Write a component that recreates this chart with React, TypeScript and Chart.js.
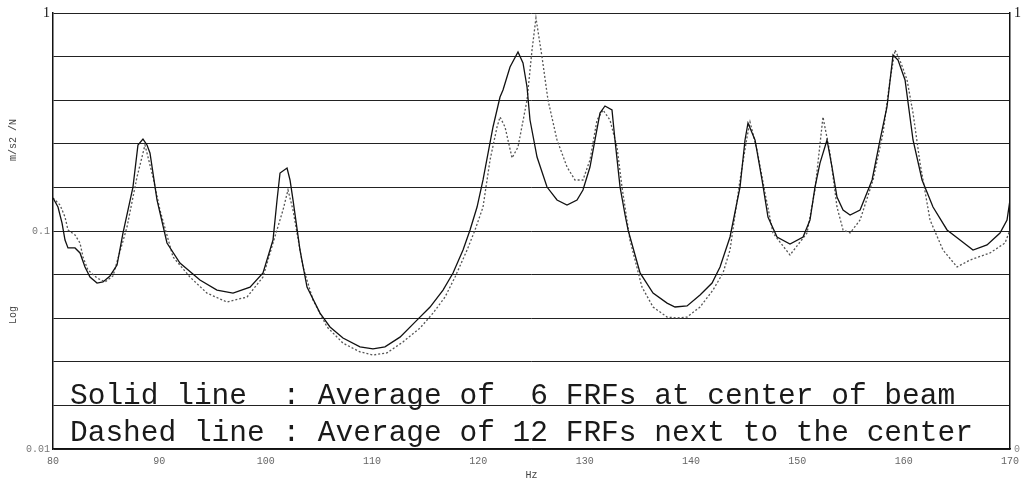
import React, { useEffect, useRef } from "react";
import { Chart, registerables } from "chart.js";

Chart.register(...registerables);

// Solid line: average of 6 FRFs at center of beam
const solidHz = [
  80.0, 80.47, 80.85, 81.13, 81.41, 82.07, 82.54, 83.01, 83.48, 84.14, 84.7, 85.36, 86.02, 86.58,
  87.52, 87.99, 88.46, 88.84, 89.12, 89.78, 90.72, 91.94, 93.82, 95.42, 96.93, 98.53, 99.75,
  100.69, 101.07, 101.35, 102.01, 102.29, 102.57, 103.23, 103.89, 105.11, 106.05, 107.27, 108.87,
  110.09, 111.22, 112.63, 114.23, 115.46, 116.68, 117.62, 118.56, 119.22, 119.88, 120.44, 121.38,
  122.04, 122.32, 122.98, 123.73, 124.2, 124.58, 124.86, 125.52, 126.46, 127.4, 128.34, 129.28,
  129.84, 130.5, 130.97, 131.44, 131.91, 132.57, 132.85, 133.33, 133.8, 134.08, 135.21, 136.43,
  137.75, 138.5, 139.63, 140.85, 141.98, 142.73, 143.67, 144.61, 145.08, 145.36, 146.02, 146.68,
  147.24, 148.09, 149.31, 150.54, 151.19, 151.66, 152.13, 152.79, 153.26, 153.73, 154.3, 154.96,
  155.9, 157.03, 157.78, 158.43, 159.0, 159.47, 160.13, 160.88, 161.73, 162.76, 164.08, 165.3,
  166.52, 167.84, 169.06, 169.72, 170.0,
];
const solidVal = [
  0.1417, 0.1288, 0.1088, 0.0909, 0.0836, 0.0836, 0.0793, 0.0684, 0.0615, 0.0577, 0.0584, 0.0622,
  0.0698, 0.0979, 0.1591, 0.248, 0.2642, 0.248, 0.2279, 0.1388, 0.0881, 0.0713, 0.0596, 0.0536,
  0.0519, 0.0553, 0.0642, 0.0909, 0.1388, 0.1845, 0.1945, 0.1714, 0.1388, 0.0818, 0.0553, 0.042,
  0.0363, 0.0323, 0.0294, 0.0288, 0.0294, 0.0326, 0.039, 0.0448, 0.0536, 0.0642, 0.0818, 0.1011,
  0.1288, 0.1714, 0.3, 0.4118, 0.4434, 0.5652, 0.6625, 0.5897, 0.4576, 0.3229, 0.2185, 0.1591,
  0.1388, 0.1316, 0.1388, 0.1542, 0.1966, 0.2615, 0.3477, 0.3745, 0.3589, 0.2615, 0.1591, 0.1184,
  0.1011, 0.0642, 0.0519, 0.0467, 0.0448, 0.0453, 0.0509, 0.0577, 0.0684, 0.0939, 0.1591, 0.2615,
  0.3129, 0.2615, 0.1714, 0.1159, 0.0939, 0.0872, 0.0939, 0.1123, 0.1591, 0.205, 0.2615, 0.1966,
  0.1432, 0.1248, 0.1184, 0.1248, 0.1714, 0.2615, 0.3706, 0.6419, 0.6086, 0.4928, 0.2615, 0.1714,
  0.1288, 0.1011, 0.0909, 0.0818, 0.0863, 0.0979, 0.1123, 0.1388,
];

// Dashed line: average of 12 FRFs next to the center
const dashedHz = [
  80.0, 80.19, 80.66, 81.13, 81.41, 82.07, 82.54, 82.82, 83.29, 84.14, 84.89, 85.64, 86.96, 87.9,
  88.65, 89.4, 90.06, 91.29, 92.88, 94.48, 96.36, 98.25, 99.75, 100.69, 101.63, 102.1, 102.57,
  103.51, 104.45, 105.77, 107.27, 108.87, 110.09, 111.41, 112.92, 114.52, 115.74, 116.87, 117.81,
  118.94, 119.69, 120.44, 121.1, 121.76, 122.04, 122.51, 123.17, 123.73, 124.58, 125.05, 125.42,
  125.99, 126.55, 127.4, 128.34, 129.09, 129.84, 130.5, 131.16, 131.73, 132.38, 133.04, 133.51,
  134.26, 135.39, 136.43, 137.75, 138.69, 139.63, 140.85, 142.07, 143.01, 143.67, 144.61, 145.27,
  145.55, 146.21, 146.96, 147.71, 149.31, 150.91, 151.66, 152.41, 153.07, 153.73, 154.3, 154.96,
  155.9, 157.12, 158.06, 158.72, 159.19, 159.75, 160.32, 160.88, 161.54, 162.48, 163.7, 165.02,
  166.24, 168.12, 169.53, 170.0,
];
const dashedVal = [
  0.1417, 0.1388, 0.1316, 0.1159, 0.1011, 0.0959, 0.0881, 0.076, 0.0662, 0.0609, 0.0584, 0.0622,
  0.1043, 0.1769, 0.248, 0.1769, 0.1248, 0.076, 0.0615, 0.0519, 0.0472, 0.0498, 0.0615, 0.0881,
  0.1248, 0.1542, 0.1248, 0.0684, 0.0483, 0.0363, 0.0306, 0.0279, 0.027, 0.0276, 0.031, 0.0359,
  0.042, 0.0498, 0.0615, 0.0818, 0.1011, 0.1288, 0.2117, 0.3, 0.3334, 0.3, 0.2163, 0.2428, 0.399,
  0.6766, 0.9486, 0.6283, 0.399, 0.2615, 0.1966, 0.1714, 0.1714, 0.2117, 0.3229, 0.3589, 0.3229,
  0.2428, 0.1591, 0.0909, 0.0553, 0.0448, 0.0403, 0.0399, 0.0403, 0.0448, 0.0536, 0.0642, 0.0818,
  0.1714, 0.2699, 0.3162, 0.2352, 0.1494, 0.0979, 0.0776, 0.0979, 0.1542, 0.3334, 0.2279, 0.1288,
  0.1011, 0.0979, 0.1123, 0.1714, 0.2815, 0.4928, 0.6766, 0.5897, 0.4928, 0.3477, 0.205, 0.1123,
  0.0818, 0.0684, 0.0736, 0.0793, 0.0881, 0.1011,
];

// Axis ticks
const xTicks = [80, 90, 100, 110, 120, 130, 140, 150, 160, 170];
const yTicks = [0.01, 0.015849, 0.025119, 0.039811, 0.063096, 0.1, 0.158489, 0.251189, 0.398107, 0.630957, 1];
const yTickLabels = ["0.01", "", "", "", "", "0.1", "", "", "", "", "1"];
const y2Ticks = [0.01, 1];
const y2TickLabels = ["0", "1"];

const legendLines = [
  "Solid line  : Average of  6 FRFs at center of beam",
  "Dashed line : Average of 12 FRFs next to the center",
];
const yTitleTop = "m/s2 /N";
const yTitleBottom = "Log";
const xTitle = "Hz";

const overlayPlugin = {
  id: "overlayText",
  afterDraw(chart: any) {
    const { ctx, chartArea } = chart;
    ctx.save();
    ctx.fillStyle = "#1a1a1a";
    ctx.font = '29.5px "Liberation Mono", monospace';
    ctx.textAlign = "left";
    ctx.textBaseline = "alphabetic";
    ctx.fillText(legendLines[0], chartArea.left + 17, 404);
    ctx.fillText(legendLines[1], chartArea.left + 17, 441);

    ctx.font = '10px "Liberation Mono", monospace';
    ctx.fillStyle = "#444";
    ctx.textAlign = "center";
    ctx.textBaseline = "middle";
    ctx.save();
    ctx.translate(13, 140);
    ctx.rotate(-Math.PI / 2);
    ctx.fillText(yTitleTop, 0, 0);
    ctx.restore();
    ctx.save();
    ctx.translate(13, 315);
    ctx.rotate(-Math.PI / 2);
    ctx.fillText(yTitleBottom, 0, 0);
    ctx.restore();
    ctx.restore();
  },
};

export default function App() {
  const canvasRef = useRef<HTMLCanvasElement | null>(null);

  useEffect(() => {
    document.body.style.margin = "0";
    const canvas = canvasRef.current;
    if (!canvas) return;

    const solidData = solidHz.map((x, i) => ({ x, y: solidVal[i] }));
    const dashedData = dashedHz.map((x, i) => ({ x, y: dashedVal[i] }));

    const chart = new Chart(canvas, {
      type: "line",
      data: {
        datasets: [
          {
            label: "Solid line",
            data: solidData,
            borderColor: "#111",
            borderWidth: 1.3,
            pointRadius: 0,
            tension: 0,
            fill: false,
          },
          {
            label: "Dashed line",
            data: dashedData,
            borderColor: "#555",
            borderWidth: 1.3,
            borderDash: [2, 2],
            pointRadius: 0,
            tension: 0,
            fill: false,
          },
        ],
      },
      options: {
        responsive: false,
        animation: false,
        layout: { padding: { top: 13, left: 0, right: 0, bottom: 0 } },
        plugins: {
          legend: { display: false },
          tooltip: { enabled: false },
          title: { display: false },
        },
        scales: {
          x: {
            type: "linear",
            min: 80,
            max: 170,
            afterBuildTicks: (scale: any) => {
              scale.ticks = xTicks.map((v) => ({ value: v }));
            },
            afterFit: (scale: any) => {
              scale.height = 38;
            },
            grid: { display: false, drawTicks: false },
            border: { display: true, color: "#111", width: 1.2 },
            ticks: {
              autoSkip: false,
              maxRotation: 0,
              padding: 6,
              color: "#666",
              font: { family: '"Liberation Mono", monospace', size: 10 },
              callback: (v: any) => String(v),
            },
            title: {
              display: true,
              text: xTitle,
              color: "#444",
              font: { family: '"Liberation Mono", monospace', size: 10 },
              padding: { top: 0, bottom: 6 },
            },
          },
          y: {
            type: "logarithmic",
            position: "left",
            min: 0.01,
            max: 1,
            afterBuildTicks: (scale: any) => {
              scale.ticks = yTicks.map((v) => ({ value: v }));
            },
            afterFit: (scale: any) => {
              scale.width = 53;
            },
            grid: { display: true, color: "#222", lineWidth: 1, drawTicks: false },
            border: { display: true, color: "#111", width: 1.5 },
            ticks: {
              autoSkip: false,
              padding: 3,
              color: (ctx: any) => (ctx.index === 10 ? "#111" : "#777"),
              font: (ctx: any) =>
                ctx.index === 10
                  ? { family: '"Liberation Serif", serif', size: 14 }
                  : { family: '"Liberation Mono", monospace', size: 10 },
              callback: (_v: any, i: number) => yTickLabels[i],
            },
          },
          y2: {
            type: "logarithmic",
            position: "right",
            min: 0.01,
            max: 1,
            afterBuildTicks: (scale: any) => {
              scale.ticks = y2Ticks.map((v) => ({ value: v }));
            },
            afterFit: (scale: any) => {
              scale.width = 16;
            },
            grid: { display: false, drawTicks: false },
            border: { display: true, color: "#111", width: 1.5 },
            ticks: {
              autoSkip: false,
              padding: 4,
              color: (ctx: any) => (ctx.index === 1 ? "#111" : "#888"),
              font: (ctx: any) =>
                ctx.index === 1
                  ? { family: '"Liberation Serif", serif', size: 14 }
                  : { family: '"Liberation Mono", monospace', size: 10 },
              callback: (_v: any, i: number) => y2TickLabels[i],
            },
          },
        },
      },
      plugins: [overlayPlugin],
    });

    return () => {
      chart.destroy();
    };
  }, []);

  return (
    <div style={{ width: 1026, height: 487, background: "#fff" }}>
      <canvas ref={canvasRef} width={1026} height={487} />
    </div>
  );
}
